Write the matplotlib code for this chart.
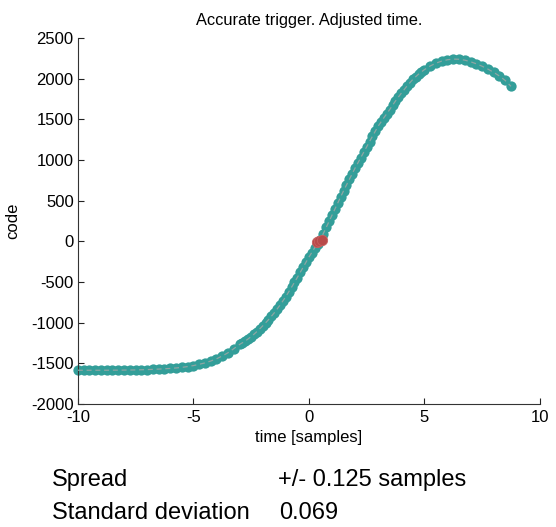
import numpy as np
import matplotlib.pyplot as plt

plt.rcParams['font.family'] = ['Liberation Sans', 'DejaVu Sans']
plt.rcParams['axes.unicode_minus'] = False

# sample times (adjusted) and ADC code
time_samples = [-10.0, -9.75, -9.5, -9.25, -9.0, -8.75, -8.5, -8.25, -8.0, -7.75,
                -7.5, -7.25, -7.0, -6.75, -6.5, -6.25, -6.0, -5.75, -5.5, -5.25,
                -5.0, -4.75, -4.5, -4.25, -4.0, -3.75, -3.5, -3.25,
                -3.0, -2.875, -2.75, -2.625, -2.5, -2.375, -2.25, -2.125,
                -2.0, -1.875, -1.75, -1.625, -1.5, -1.375, -1.25, -1.125,
                -1.0, -0.875, -0.75, -0.625, -0.5, -0.375, -0.25, -0.125,
                0.0, 0.125, 0.25, 0.375, 0.5, 0.625, 0.75, 0.875,
                1.0, 1.125, 1.25, 1.375, 1.5, 1.625, 1.75, 1.875,
                2.0, 2.125, 2.25, 2.375, 2.5, 2.625, 2.75, 2.875,
                3.0, 3.125, 3.25, 3.375, 3.5, 3.625, 3.75, 3.875,
                4.0, 4.125, 4.25, 4.375, 4.5, 4.625, 4.75, 4.875,
                5.0, 5.25, 5.5, 5.75, 6.0, 6.25, 6.5, 6.75, 7.0, 7.25,
                7.5, 7.75, 8.0, 8.25, 8.5, 8.75]
code = [-1585, -1585, -1585, -1585, -1585, -1585, -1584, -1584, -1583, -1582,
        -1581, -1579, -1577, -1574, -1571, -1567, -1563, -1557, -1550, -1540,
        -1528, -1512, -1495, -1472, -1445, -1410, -1370, -1320,
        -1268, -1247, -1225, -1199, -1172, -1142, -1110, -1076,
        -1040, -1003, -965, -923, -880, -833, -785, -733,
        -680, -623, -565, -505, -445, -383, -320, -258,
        -195, -138, -80, -30, 20, 95, 170, 245,
        320, 395, 470, 545, 620, 690, 760, 830,
        900, 965, 1030, 1095, 1160, 1225, 1290, 1353,
        1415, 1468, 1520, 1570, 1620, 1673, 1725, 1773,
        1820, 1865, 1910, 1950, 1990, 2023, 2055, 2083,
        2110, 2155, 2190, 2215, 2232, 2240, 2238, 2227, 2207, 2182,
        2152, 2117, 2077, 2032, 1977, 1905]

# triggered points
trig_time = [0.35, 0.45, 0.58]
trig_code = [-10, 0, 10]

spread_text = '+/- 0.125 samples'
std_text = '0.069'

fig = plt.figure(figsize=(5.56, 5.27), dpi=100)
ax = fig.add_axes([0.140, 0.2334, 0.831, 0.6946])

ax.plot(time_samples, code, 'o', color='#339e99', markersize=7.4,
        markeredgewidth=0, zorder=2, clip_on=False)
ax.plot(time_samples, code, '--', color='#8fa5a3', lw=0.9, zorder=3,
        dashes=(4, 3))
ax.plot(trig_time, trig_code, 'o', color='#b84a4a', markersize=7.4,
        markeredgecolor='#c86060', markeredgewidth=0.6, zorder=4)

ax.set_xlim(-10, 10)
ax.set_ylim(-2000, 2500)
ax.set_xticks([-10, -5, 0, 5, 10])
ax.set_yticks(np.arange(-2000, 2501, 500))
ax.spines['top'].set_visible(False)
ax.spines['right'].set_visible(False)
for s in ('left', 'bottom'):
    ax.spines[s].set_linewidth(0.8)
    ax.spines[s].set_color('#333333')
ax.tick_params(direction='in', length=4, width=0.8, labelsize=12,
               colors='#222222', labelcolor='black')
ax.tick_params(axis='x', pad=4)
ax.tick_params(axis='y', pad=3)

ax.set_title('Accurate trigger. Adjusted time.', fontsize=11.8, pad=9)
ax.set_xlabel('time [samples]', fontsize=12, labelpad=4)
ax.set_ylabel('code', fontsize=12, labelpad=8)

fig.text(52 / 556, 1 - 480 / 527, 'Spread', fontsize=17, va='center')
fig.text(278 / 556, 1 - 480 / 527, spread_text, fontsize=17, va='center')
fig.text(52 / 556, 1 - 513 / 527, 'Standard deviation', fontsize=17, va='center')
fig.text(279 / 556, 1 - 513 / 527, std_text, fontsize=17, va='center')

fig.savefig('out.png', dpi=100)
